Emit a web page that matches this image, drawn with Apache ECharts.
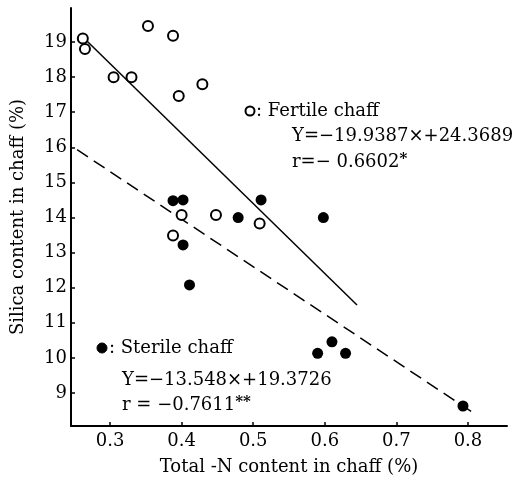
<!DOCTYPE html>
<html>
<head>
<meta charset="utf-8">
<script src="https://cdn.jsdelivr.net/npm/echarts@6/dist/echarts.min.js"></script>
<style>
  html, body { margin: 0; padding: 0; background: #fff; }
  #chart { width: 515px; height: 482px; }
</style>
</head>
<body>
<div id="chart"></div>
<script>
// 数据：读图估计
var fertileX = [0.262, 0.265, 0.305, 0.330, 0.353, 0.388, 0.396, 0.429, 0.400, 0.448, 0.388, 0.509];
var fertileY = [19.10, 18.80, 18.00, 18.00, 19.46, 19.18, 17.46, 17.80, 14.07, 14.07, 13.49, 13.83];
var sterileX = [0.388, 0.402, 0.511, 0.479, 0.598, 0.402, 0.411, 0.590, 0.610, 0.629, 0.793];
var sterileY = [14.48, 14.50, 14.50, 14.00, 14.00, 13.22, 12.08, 10.13, 10.46, 10.13, 8.63];

// 回归线 Y = a*x + b，以及画线的 x 范围
var fertileFit = { a: -19.9387, b: 24.3689, from: 0.262, to: 0.645 };
var sterileFit = { a: -13.548, b: 19.3726, from: 0.254, to: 0.81 };

var xTicks = [0.3, 0.4, 0.5, 0.6, 0.7, 0.8];
var yTicks = [9, 10, 11, 12, 13, 14, 15, 16, 17, 18, 19];

var FONT = '"DejaVu Serif", serif';

function pairs(xs, ys) {
    var out = [];
    for (var i = 0; i < xs.length; i++) {
        out.push([xs[i], ys[i]]);
    }
    return out;
}
function fitLine(f) {
    return [[f.from, f.a * f.from + f.b], [f.to, f.a * f.to + f.b]];
}

var chart = echarts.init(document.getElementById('chart'));

var option = {
    animation: false,
    backgroundColor: '#fff',
    grid: { left: 71, top: 8, right: 8, bottom: 56 },
    xAxis: {
        type: 'value',
        min: 0.2455,
        max: 0.8545,
        name: 'Total -N content in chaff (%)',
        nameLocation: 'middle',
        nameGap: 32,
        nameTextStyle: { fontFamily: FONT, fontSize: 18, color: '#000' },
        axisLine: { lineStyle: { color: '#000', width: 2 } },
        axisTick: { inside: true, length: 4, lineStyle: { color: '#000', width: 1.5 }, customValues: xTicks },
        axisLabel: { color: '#000', fontFamily: FONT, fontSize: 18, margin: 6, customValues: xTicks },
        splitLine: { show: false }
    },
    yAxis: {
        type: 'value',
        min: 8.06,
        max: 19.97,
        name: 'Silica content in chaff (%)',
        nameLocation: 'middle',
        nameGap: 44,
        nameTextStyle: { fontFamily: FONT, fontSize: 18, color: '#000' },
        axisLine: { show: true, lineStyle: { color: '#000', width: 2 } },
        axisTick: { show: true, inside: true, length: 4, lineStyle: { color: '#000', width: 1.5 }, customValues: yTicks },
        axisLabel: { color: '#000', fontFamily: FONT, fontSize: 18, margin: 4, customValues: yTicks },
        splitLine: { show: false }
    },
    graphic: [
        { type: 'circle', shape: { cx: 250, cy: 111, r: 4.5 }, style: { fill: '#fff', stroke: '#000', lineWidth: 2 } },
        { type: 'text', x: 256, y: 111, style: { text: ': Fertile chaff', font: '18px ' + FONT, fill: '#000', verticalAlign: 'middle' } },
        { type: 'text', x: 292, y: 136, style: { text: 'Y=−19.9387×+24.3689', font: '18px ' + FONT, fill: '#000', verticalAlign: 'middle' } },
        { type: 'text', x: 292, y: 162, style: {
            text: 'r=− 0.6602{s|*}', font: '18px ' + FONT, fill: '#000', verticalAlign: 'middle',
            rich: { s: { fontFamily: FONT, fontSize: 15, fontWeight: 'bold', verticalAlign: 'top', padding: [0, 0, 6, 0] } }
        } },
        { type: 'circle', shape: { cx: 102, cy: 348, r: 5 }, style: { fill: '#000', stroke: '#000', lineWidth: 1 } },
        { type: 'text', x: 109, y: 348, style: { text: ': Sterile chaff', font: '18px ' + FONT, fill: '#000', verticalAlign: 'middle' } },
        { type: 'text', x: 122, y: 380, style: { text: 'Y=−13.548×+19.3726', font: '18px ' + FONT, fill: '#000', verticalAlign: 'middle' } },
        { type: 'text', x: 122, y: 405, style: {
            text: 'r = −0.7611{s|**}', font: '18px ' + FONT, fill: '#000', verticalAlign: 'middle',
            rich: { s: { fontFamily: FONT, fontSize: 15, fontWeight: 'bold', verticalAlign: 'top', padding: [0, 0, 6, 0] } }
        } }
    ],
    series: [
        {
            name: 'fertile fit',
            type: 'line',
            data: fitLine(fertileFit),
            symbol: 'none',
            lineStyle: { color: '#000', width: 1.5 },
            z: 1
        },
        {
            name: 'sterile fit',
            type: 'line',
            data: fitLine(sterileFit),
            symbol: 'none',
            lineStyle: { color: '#000', width: 1.5, type: [13, 7] },
            z: 1
        },
        {
            name: 'Fertile chaff',
            type: 'scatter',
            data: pairs(fertileX, fertileY),
            symbol: 'circle',
            symbolSize: 10,
            itemStyle: { color: '#fff', borderColor: '#000', borderWidth: 2, opacity: 1 },
            z: 3
        },
        {
            name: 'Sterile chaff',
            type: 'scatter',
            data: pairs(sterileX, sterileY),
            symbol: 'circle',
            symbolSize: 11,
            itemStyle: { color: '#000', opacity: 1 },
            z: 3
        }
    ]
};
chart.setOption(option);
</script>
</body>
</html>
